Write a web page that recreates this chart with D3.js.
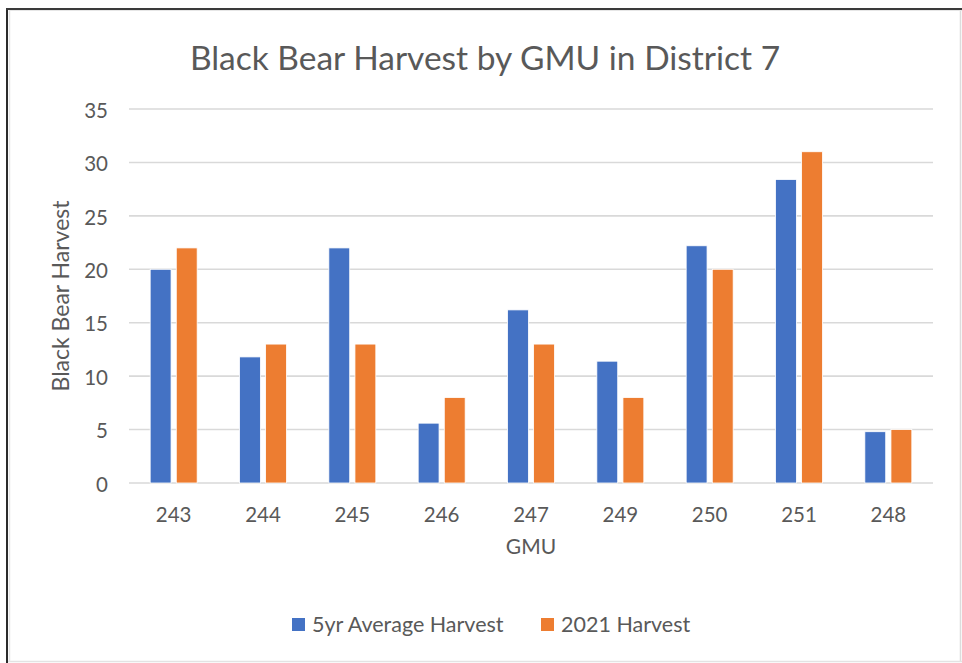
<!DOCTYPE html>
<html>
<head>
<meta charset="utf-8">
<script src="https://cdn.jsdelivr.net/npm/d3@7"></script>
<style>
  html, body { margin: 0; padding: 0; background: #ffffff; }
  svg { display: block; }
  text { font-family: Lato, "Open Sans", sans-serif; fill: #595959; }
</style>
</head>
<body>
<script>
// Black bear harvest per Game Management Unit, District 7
const gmus = ["243", "244", "245", "246", "247", "249", "250", "251", "248"];
const fiveYearAverage = [20, 11.8, 22, 5.6, 16.2, 11.4, 22.2, 28.4, 4.8];
const harvest2021 = [22, 13, 13, 8, 13, 8, 20, 31, 5];
const seriesNames = ["5yr Average Harvest", "2021 Harvest"];
const seriesColors = ["#4472C4", "#ED7D31"];
const yTicks = [0, 5, 10, 15, 20, 25, 30, 35];

const W = 962, H = 663;
const plot = { left: 129, right: 933, top: 109, bottom: 483 };

const svg = d3.select("body").append("svg")
  .attr("width", W).attr("height", H);

// Frame
svg.append("rect").attr("x", 0).attr("y", 0).attr("width", W).attr("height", H).attr("fill", "#ffffff");
svg.append("line").attr("x1", 960.5).attr("x2", 960.5).attr("y1", 9).attr("y2", 662).attr("stroke", "#dcdcdc").attr("stroke-width", 1.5);
svg.append("line").attr("x1", 7).attr("x2", 962).attr("y1", 661.5).attr("y2", 661.5).attr("stroke", "#e3e3e3").attr("stroke-width", 1.5);
svg.append("line").attr("x1", 9.5).attr("x2", 9.5).attr("y1", 10).attr("y2", 662).attr("stroke", "#e6e6e6").attr("stroke-width", 1.5);
svg.append("line").attr("x1", 9).attr("x2", 962).attr("y1", 10.5).attr("y2", 10.5).attr("stroke", "#e6e6e6").attr("stroke-width", 1);
svg.append("line").attr("x1", 7).attr("x2", 7).attr("y1", 8).attr("y2", 663).attr("stroke", "#2b2b2b").attr("stroke-width", 2);
svg.append("line").attr("x1", 6).attr("x2", 962).attr("y1", 9).attr("y2", 9).attr("stroke", "#3a3a3a").attr("stroke-width", 2);

// Scales
const x0 = d3.scaleBand().domain(gmus).range([plot.left, plot.right])
  .paddingInner(0.474).paddingOuter(0.237);
const x1 = d3.scaleBand().domain(seriesNames).range([0, x0.bandwidth()]).paddingInner(0.2);
const y = d3.scaleLinear().domain([0, 35]).range([plot.bottom, plot.top]);

// Gridlines
svg.append("g").selectAll("line").data(yTicks).join("line")
  .attr("x1", plot.left).attr("x2", plot.right)
  .attr("y1", d => y(d)).attr("y2", d => y(d))
  .attr("stroke", "#d9d9d9").attr("stroke-width", 1.6);

// Y axis tick labels
const yAxis = d3.axisLeft(y).tickValues(yTicks).tickSize(0).tickPadding(21);
const yg = svg.append("g").attr("transform", `translate(${plot.left},0)`).call(yAxis);
yg.select(".domain").remove();
yg.selectAll("text").attr("font-size", 20.5).attr("fill", "#595959")
  .attr("font-family", "Lato, 'Open Sans', sans-serif").attr("dy", "0.4em");

// X axis tick labels
const xAxis = d3.axisBottom(x0).tickSize(0).tickPadding(0);
const xg = svg.append("g").attr("transform", `translate(0,${plot.bottom})`).call(xAxis);
xg.select(".domain").remove();
xg.selectAll("text").attr("font-size", 20.5).attr("fill", "#595959")
  .attr("font-family", "Lato, 'Open Sans', sans-serif")
  .attr("dy", null).attr("y", 38.5);

// Bars
const rows = gmus.map((g, i) => ({ gmu: g, values: [fiveYearAverage[i], harvest2021[i]] }));
const groups = svg.append("g").selectAll("g").data(rows).join("g")
  .attr("transform", d => `translate(${x0(d.gmu)},0)`);
groups.selectAll("rect").data(d => d.values.map((v, k) => ({ key: seriesNames[k], value: v, color: seriesColors[k] })))
  .join("rect")
  .attr("x", d => x1(d.key))
  .attr("width", x1.bandwidth())
  .attr("y", d => y(d.value))
  .attr("height", d => y(0) - y(d.value))
  .attr("fill", d => d.color)
  .attr("stroke", "#ffffff").attr("stroke-width", 0.8);

// Titles
svg.append("text").attr("x", 485).attr("y", 70).attr("text-anchor", "middle")
  .attr("font-size", 33.5).text("Black Bear Harvest by GMU in District 7");
svg.append("text").attr("x", (plot.left + plot.right) / 2).attr("y", 554).attr("text-anchor", "middle")
  .attr("font-size", 21).text("GMU");
svg.append("text").attr("transform", `translate(69,${(plot.top + plot.bottom) / 2}) rotate(-90)`)
  .attr("text-anchor", "middle").attr("font-size", 23).text("Black Bear Harvest");

// Legend
const legendItems = [{ name: seriesNames[0], color: seriesColors[0], x: 292 }, { name: seriesNames[1], color: seriesColors[1], x: 541 }];
const lg = svg.append("g").selectAll("g").data(legendItems).join("g")
  .attr("transform", d => `translate(${d.x},618)`);
lg.append("rect").attr("width", 13).attr("height", 13).attr("fill", d => d.color);
lg.append("text").attr("x", 20).attr("y", 13.5).attr("font-size", 21.5).text(d => d.name);
</script>
</body>
</html>
